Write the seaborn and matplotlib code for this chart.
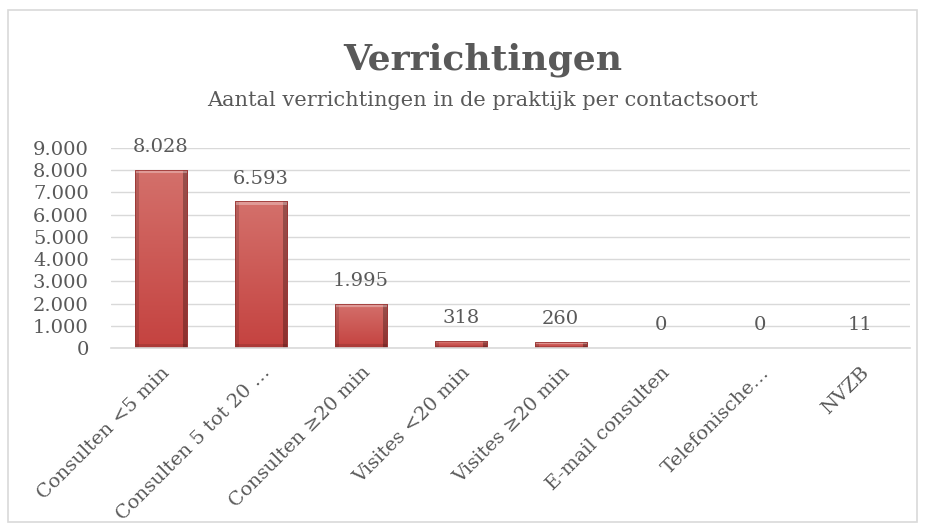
import matplotlib
matplotlib.use("Agg")
import matplotlib.pyplot as plt
import seaborn as sns
import pandas as pd
import numpy as np
from matplotlib.patches import Rectangle
from matplotlib.ticker import FuncFormatter

categories = ["Consulten <5 min", "Consulten 5 tot 20 …", "Consulten ≥20 min",
              "Visites <20 min", "Visites ≥20 min", "E-mail consulten",
              "Telefonische…", "NVZB"]
values = [8028, 6593, 1995, 318, 260, 0, 0, 11]
value_labels = ["8.028", "6.593", "1.995", "318", "260", "0", "0", "11"]
yticks = [0, 1000, 2000, 3000, 4000, 5000, 6000, 7000, 8000, 9000]

df = pd.DataFrame({"cat": categories, "val": values})

sns.set_theme(style="white")
plt.rcParams["font.family"] = ["DejaVu Serif", "DejaVu Sans"]
text_col = "#595959"

fig = plt.figure(figsize=(9.25, 5.31), dpi=100)
ax = fig.add_axes([0.12, 0.3446, 0.864, 0.3767])

sns.barplot(data=df, x="cat", y="val", ax=ax, color="#C9504E", width=0.52,
            edgecolor="#A0393A", linewidth=0.6, saturation=1)

ax.set_ylim(0, 9000)
ax.set_xlim(-0.5, len(categories) - 0.5)
ax.set_yticks(yticks)
ax.yaxis.set_major_formatter(FuncFormatter(lambda v, p: f"{int(v):,}".replace(",", ".")))
ax.grid(axis="y", color="#D9D9D9", linewidth=1)
ax.set_axisbelow(True)
for s in ["top", "right", "left"]:
    ax.spines[s].set_visible(False)
ax.spines["bottom"].set_color("#D9D9D9")
ax.spines["bottom"].set_linewidth(1.2)
ax.set_xlabel("")
ax.set_ylabel("")
ax.tick_params(axis="y", labelsize=14, labelcolor=text_col, length=0, pad=16)
ax.tick_params(axis="x", labelsize=14, labelcolor=text_col, length=0, pad=11)
plt.setp(ax.get_xticklabels(), rotation=45, ha="right", rotation_mode="anchor")

# bevelled gradient fill for each bar (shading only, geometry from seaborn's patches)
c_top = np.array([0.83, 0.44, 0.42])
c_bot = np.array([0.77, 0.26, 0.25])
for patch in list(ax.patches):
    x, y, w, h = patch.get_x(), patch.get_y(), patch.get_width(), patch.get_height()
    if h <= 0:
        continue
    p0 = ax.transData.transform((x, y))
    p1 = ax.transData.transform((x + w, y + h))
    wp = max(int(round(p1[0] - p0[0])), 2)
    hp = max(int(round(p1[1] - p0[1])), 2)
    t = np.linspace(0, 1, hp)[:, None, None]
    img = c_top * (1 - t) + c_bot * t
    img = np.repeat(img, wp, axis=1)
    b = 4
    bb = min(b, max(hp // 3, 1))
    img[:, :b] *= 0.86
    img[:, -b:] *= 0.72
    img[:bb, :] = img[:bb, :] * 0.7 + 0.3
    img[-bb:, :] *= 0.88
    im = ax.imshow(np.clip(img, 0, 1), extent=[x, x + w, y, y + h], aspect="auto",
                   zorder=patch.get_zorder() + 0.05, interpolation="bilinear")
    im.set_clip_path(patch)
    outline = Rectangle((x, y), w, h, fill=False, edgecolor="#9A3432",
                        linewidth=0.6, zorder=patch.get_zorder() + 0.1)
    ax.add_patch(outline)

ax.set_ylim(0, 9000)
ax.set_xlim(-0.5, len(categories) - 0.5)

for i, (v, lab) in enumerate(zip(values, value_labels)):
    ax.annotate(lab, (i, v), xytext=(0, 10), textcoords="offset points",
                ha="center", va="bottom", fontsize=14, color=text_col)

fig.text(0.522, 0.888, "Verrichtingen", ha="center", va="center",
         fontsize=26, fontweight="bold", color=text_col)
fig.text(0.522, 0.81, "Aantal verrichtingen in de praktijk per contactsoort",
         ha="center", va="center", fontsize=15, color=text_col)

fig.patches.append(Rectangle((0.009, 0.017), 0.982, 0.965, transform=fig.transFigure,
                             fill=False, edgecolor="#D9D9D9", linewidth=1.2))

fig.savefig("out.png", dpi=100, facecolor="white")
